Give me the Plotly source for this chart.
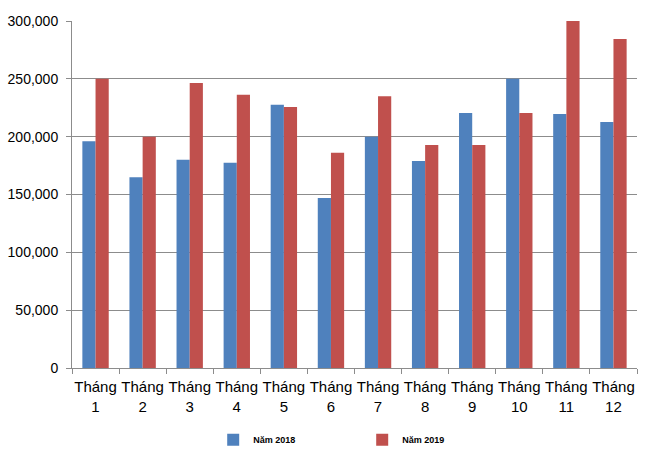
import plotly.graph_objects as go

categories = ["Tháng<br>1", "Tháng<br>2", "Tháng<br>3", "Tháng<br>4", "Tháng<br>5", "Tháng<br>6",
              "Tháng<br>7", "Tháng<br>8", "Tháng<br>9", "Tháng<br>10", "Tháng<br>11", "Tháng<br>12"]
nam_2018 = [196000, 165000, 180000, 177500, 227600, 147000, 200000, 179000, 220500, 250000, 219600, 212700]
nam_2019 = [250000, 200000, 246500, 236300, 225600, 186000, 235000, 192800, 192800, 220500, 300000, 284500]
series_names = ["Năm 2018", "Năm 2019"]
y_ticks = [0, 50000, 100000, 150000, 200000, 250000, 300000]

fig = go.Figure()
fig.add_trace(go.Bar(x=categories, y=nam_2018, name=series_names[0],
                     marker=dict(color="#4F81BD", line=dict(width=0))))
fig.add_trace(go.Bar(x=categories, y=nam_2019, name=series_names[1],
                     marker=dict(color="#C0504D", line=dict(width=0))))

fig.update_layout(
    width=650, height=462,
    margin=dict(l=72, r=13, t=21, b=94),
    paper_bgcolor="white", plot_bgcolor="white",
    barmode="group", bargap=0.44, bargroupgap=0,
    font=dict(family="Liberation Sans, Arial, sans-serif", size=14, color="#000000"),
    showlegend=True,
    legend=dict(orientation="h", xref="container", yref="container",
                x=0.328, y=0.048, xanchor="left", yanchor="middle",
                entrywidth=104, entrywidthmode="pixels",
                font=dict(size=9, family="Liberation Sans, Arial, sans-serif", color="#000000", weight="bold"),
                itemsizing="constant"),
)
fig.update_yaxes(range=[0, 300000], tickvals=y_ticks, tickformat=",",
                 showgrid=True, gridcolor="#8C8C8C", gridwidth=1,
                 showline=True, linecolor="#8C8C8C", linewidth=1,
                 ticks="outside", ticklen=5, tickcolor="#8C8C8C",
                 ticklabelstandoff=5,
                 zeroline=False, tickfont=dict(size=14), automargin=False)
fig.update_xaxes(showline=True, linecolor="#8C8C8C", linewidth=1,
                 ticks="outside", ticklen=5, tickcolor="#8C8C8C", tickson="boundaries",
                 ticklabelstandoff=5,
                 tickangle=0, tickfont=dict(size=15), automargin=False)

fig.write_html("out.html")
